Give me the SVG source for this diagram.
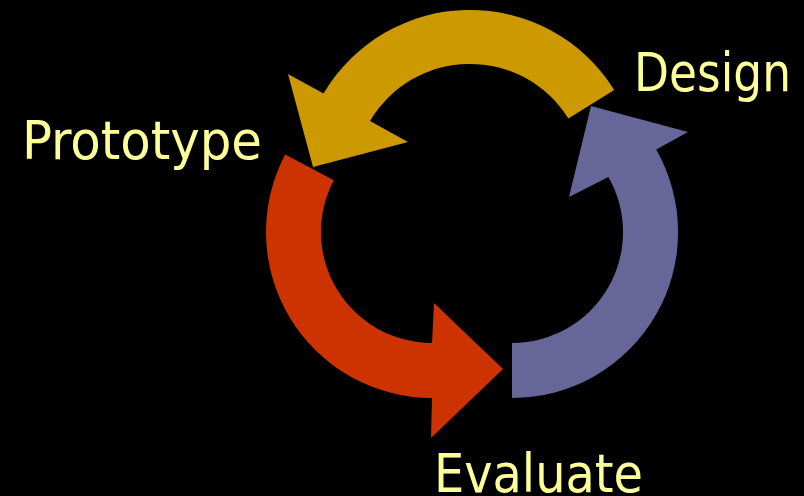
<svg xmlns="http://www.w3.org/2000/svg" width="804" height="496" viewBox="0 0 804 496">
  <style>
    .lbl { font-family: "DejaVu Sans Condensed", "DejaVu Sans", Verdana, sans-serif; font-stretch: condensed; font-size: 53px; fill: #FFFF99; }
  </style>
  <rect x="0" y="0" width="804" height="496" fill="#000000"/>
  <g id="connectors">
    <path id="arrow-design-prototype" fill="#CC9900" d="M 614.2 89.9 A 170 170 0 0 0 323.5 93.6 L 288 74 L 313 167 L 408 142 L 370 121.1 A 116 116 0 0 1 568.4 118.5 Z"/>
    <path id="arrow-prototype-evaluate" fill="#CC3300" d="M 285.2 154.5 A 166 166 0 0 0 432 398 L 431 438 L 503 369 L 434 303 L 432 343 A 111 111 0 0 1 333.8 180.2 Z"/>
    <path id="arrow-evaluate-design" fill="#666699" d="M 512 398 A 166 166 0 0 0 656.2 149.6 L 688 132 L 591 106 L 569 197 L 608.4 176.9 A 111 111 0 0 1 512 343 Z"/>
  </g>
  <g id="node-design">
    <text class="lbl" x="634" y="91" textLength="157" lengthAdjust="spacingAndGlyphs">Design</text>
  </g>
  <g id="node-prototype">
    <text class="lbl" x="22" y="159" textLength="240" lengthAdjust="spacingAndGlyphs">Prototype</text>
  </g>
  <g id="node-evaluate">
    <text class="lbl" x="434" y="492" textLength="209" lengthAdjust="spacingAndGlyphs">Evaluate</text>
  </g>
</svg>
